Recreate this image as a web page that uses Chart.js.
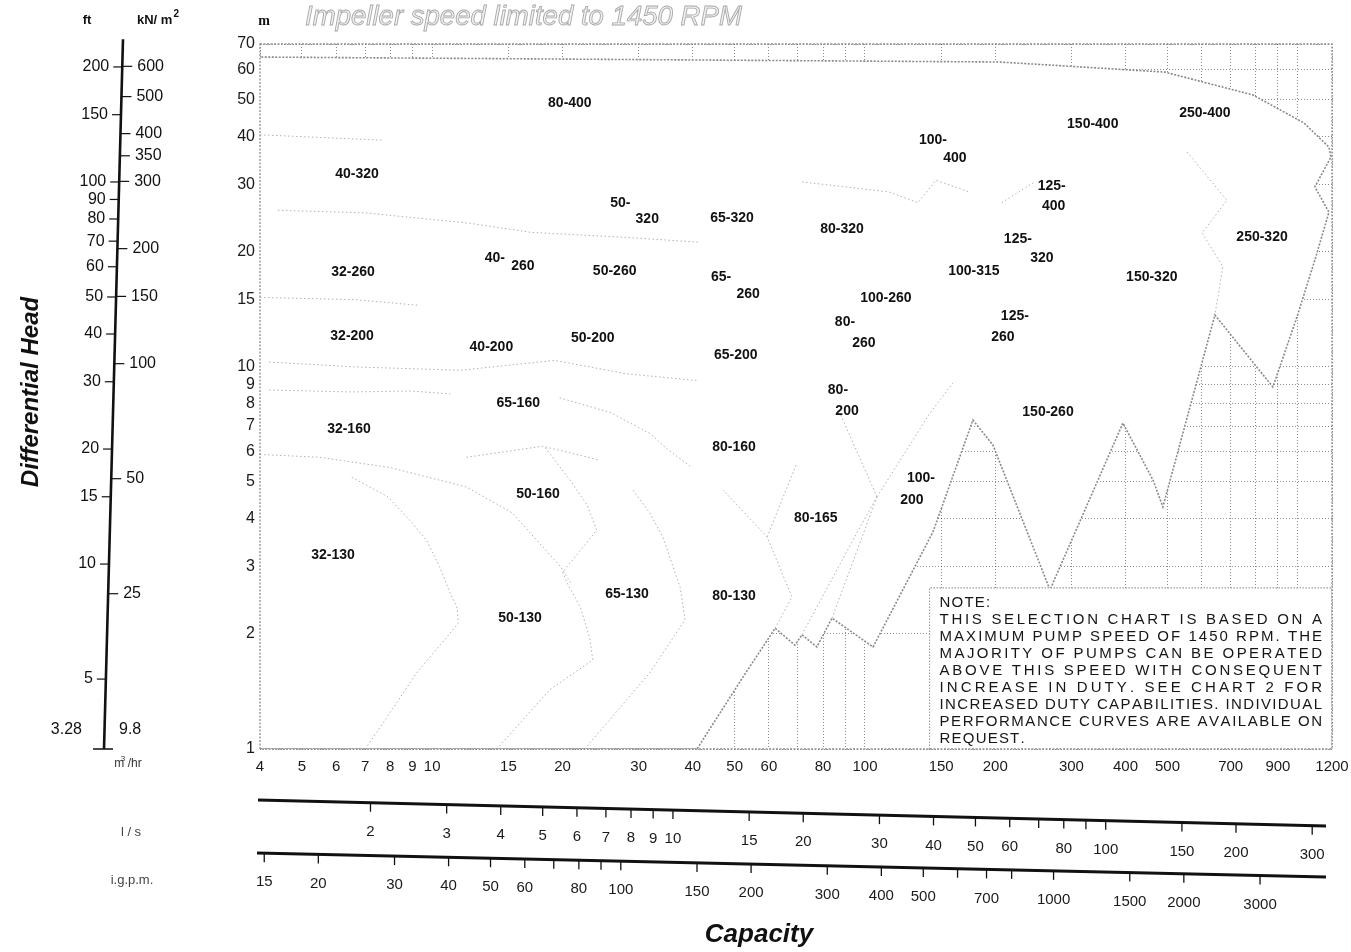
<!DOCTYPE html>
<html>
<head>
<meta charset="utf-8">
<script src="https://cdn.jsdelivr.net/npm/chart.js@4.4.1/dist/chart.umd.min.js"></script>
<style>
  html, body { margin: 0; padding: 0; background: #fff; }
  #wrap { position: relative; width: 1351px; height: 952px; }
</style>
</head>
<body>
<div id="wrap"><canvas id="chart" width="1351" height="952"></canvas></div>
<script>
// Pump selection chart - capacity (m3/hr) vs differential head (m), log/log

const FONT = '"Liberation Sans", Arial, sans-serif';

// main axes
const capacityTicks = [4, 5, 6, 7, 8, 9, 10, 15, 20, 30, 40, 50, 60, 80, 100, 150, 200, 300, 400, 500, 700, 900, 1200];
const capacityGrid = [4, 5, 6, 7, 8, 9, 10, 15, 20, 30, 40, 50, 60, 70, 80, 90, 100, 150, 200, 300, 400, 500, 600, 700, 800, 900, 1000, 1200];
const headTicks = [1, 2, 3, 4, 5, 6, 7, 8, 9, 10, 15, 20, 30, 40, 50, 60, 70];

// left nomogram (ft / kN/m2)
const feetTicks = [200, 150, 100, 90, 80, 70, 60, 50, 40, 30, 20, 15, 10, 5];
const kpaTicks = [600, 500, 400, 350, 300, 200, 150, 100, 50, 25];

// lower capacity scales
const lpsTicks = [2, 3, 4, 5, 6, 7, 8, 9, 10, 15, 20, 30, 40, 50, 60, 70, 80, 90, 100, 150, 200, 300];
const lpsLabels = [2, 3, 4, 5, 6, 7, 8, 9, 10, 15, 20, 30, 40, 50, 60, 80, 100, 150, 200, 300];
const igpmTicks = [15, 20, 30, 40, 50, 60, 70, 80, 90, 100, 150, 200, 300, 400, 500, 600, 700, 800, 1000, 1500, 2000, 3000];
const igpmLabels = [15, 20, 30, 40, 50, 60, 80, 100, 150, 200, 300, 400, 500, 700, 1000, 1500, 2000, 3000];

const M3H_PER_LPS = 3.6;
const M3H_PER_IGPM = 0.272765;
const FT_PER_M = 3.28084;
const KPA_PER_M = 9.80665;

// outer limit of the covered range [m3/hr, m]
const envelope = [
  [4, 1], [40.9, 1], [52.2, 1.54], [62, 2.07], [68.9, 1.87], [71.5, 1.99], [77.4, 1.85], [83.9, 2.2],
  [104.4, 1.85], [143.6, 3.7], [177.6, 7.26], [197.5, 6.25], [267.6, 2.61], [394.5, 7.13], [462.9, 5.06],
  [488, 4.3], [643.6, 13.67], [876, 8.86], [995.6, 13.5], [1095.6, 19.05], [1180.6, 25.4], [1095.6, 29.6],
  [1193, 35.4], [1180.6, 37.6], [1033.6, 43.5], [788, 51.5], [493, 59.1], [205, 62.8], [4, 64.7]
];

// note panel corners [m3/hr, m]
const noteBox = [[141, 1], [141, 2.64], [1200, 2.64], [1200, 1]];

// borders between pump sizes [m3/hr, m]
const lowerBoundaries = [
  [[4, 5.9], [5.5, 5.8], [8, 5.45], [12, 4.85], [15.3, 4.15], [19.8, 3.0], [20.9, 2.72]],
  [[7, 1], [7.7, 1.17], [9.2, 1.58], [10.8, 1.96], [11.5, 2.14], [11.4, 2.35], [11, 2.56], [10.4, 3.0], [9.7, 3.52], [9, 3.9], [7.9, 4.57], [6.5, 5.15]],
  [[14.1, 1], [18.7, 1.43], [23.5, 1.71], [23.1, 1.96], [22, 2.35], [20.5, 2.72], [20, 2.9], [24, 3.74], [22.8, 4.35], [20.8, 5.06], [18.2, 6.17]],
  [[22.5, 1], [31.8, 1.58], [38.4, 2.18], [37.4, 2.65], [34.1, 3.59], [31.8, 4.15], [29.1, 4.76]],
  [[62, 2.07], [67.8, 2.5], [59.4, 3.59], [47, 4.76]],
  [[59.4, 3.59], [69.6, 5.6]],
  [[71.5, 1.99], [97.4, 3.81], [106.6, 4.57]],
  [[83.9, 2.2], [106.6, 4.57]],
  [[106.6, 4.57], [87.5, 7.57]],
  [[106.6, 4.57], [141.3, 7.57], [159.7, 9.08]],
  [[12, 5.8], [18, 6.2], [24.4, 5.7]],
  [[19.7, 8.3], [25.8, 7.6], [31.8, 6.7], [34.9, 6.1], [39.4, 5.5]]
];
const upperBoundaries = [
  [[4, 40.5], [7.7, 39.2]],
  [[4.4, 25.7], [7, 25.3], [12.1, 23.8], [16.9, 22.5], [28.5, 21.8], [41.3, 21.2]],
  [[4, 15.2], [6.6, 15.0], [9.3, 14.5]],
  [[4.2, 10.3], [6.6, 10.0], [11.6, 9.8], [19.2, 10.4], [28, 9.6], [41.3, 9.2]],
  [[4.2, 8.7], [6.5, 8.6], [8.9, 8.65], [11, 8.5]],
  [[71.5, 30.5], [113.6, 28.7], [132.6, 26.9], [145.9, 30.8], [173.9, 28.7]],
  [[207, 26.9], [247, 30.5]],
  [[555, 36.5], [686, 27.3], [601, 22.4], [671.6, 18.3], [643.6, 13.67]]
];

// pump size labels [text, m3/hr, m]
const pumpLabels = [
  ['80-400', 20.8, 49], ['40-320', 6.7, 32], ['50-', 27.2, 26.85], ['320', 31.4, 24.4],
  ['65-320', 49.3, 24.5], ['80-320', 88.5, 23], ['100-', 143.6, 39.3], ['400', 161.4, 35.2],
  ['150-400', 336, 43.2], ['250-400', 610, 46.2], ['125-', 270, 29.7], ['400', 273, 26.4],
  ['125-', 225.6, 21.6], ['320', 256.4, 19.3], ['250-320', 827, 21.8], ['100-315', 178.5, 17.8],
  ['150-320', 460, 17.2], ['32-260', 6.56, 17.7], ['40-', 13.96, 19.3], ['260', 16.2, 18.3],
  ['50-260', 26.4, 17.8], ['65-', 46.5, 17.2], ['260', 53.7, 15.5], ['100-260', 111.8, 15.1],
  ['80-', 89.9, 13.1], ['260', 99.4, 11.55], ['125-', 222, 13.6], ['260', 208.4, 11.97],
  ['32-200', 6.53, 12.04], ['40-200', 13.7, 11.27], ['50-200', 23.5, 11.9], ['65-200', 50.3, 10.74],
  ['80-', 86.6, 8.7], ['200', 90.9, 7.66], ['65-160', 15.8, 8.05], ['32-160', 6.42, 6.88],
  ['150-260', 264.8, 7.62], ['80-160', 49.8, 6.17], ['100-', 134.7, 5.12], ['200', 128.4, 4.48],
  ['50-160', 17.55, 4.65], ['80-165', 77, 4.02], ['32-130', 5.9, 3.22], ['65-130', 28.2, 2.545],
  ['80-130', 49.8, 2.51], ['50-130', 15.95, 2.2]
];

const noteLines = [
  'NOTE:',
  'THIS SELECTION CHART IS BASED ON A',
  'MAXIMUM PUMP SPEED OF 1450 RPM. THE',
  'MAJORITY OF PUMPS CAN BE OPERATED',
  'ABOVE THIS SPEED WITH CONSEQUENT',
  'INCREASE IN DUTY. SEE CHART 2 FOR',
  'INCREASED DUTY CAPABILITIES. INDIVIDUAL',
  'PERFORMANCE CURVES ARE AVAILABLE ON',
  'REQUEST.'
];

const toPoints = pairs => pairs.map(([x, y]) => ({ x, y }));

const boundaryStyle = {
  borderColor: '#b2b2b2', borderWidth: 1, borderDash: [1.5, 2.5],
  pointRadius: 0, fill: false, tension: 0, order: 0
};

// Text with extra letter spacing so that it fills a given width
function spacedText(ctx, text, x, y, width) {
  const chars = [...text];
  const natural = chars.reduce((s, c) => s + ctx.measureText(c).width, 0);
  const gap = width ? (width - natural) / (chars.length - 1) : 1.2;
  let cx = x;
  chars.forEach(c => {
    ctx.fillText(c, cx, y);
    cx += ctx.measureText(c).width + gap;
  });
}

// Slanted capacity scale underneath the chart
function drawSlantScale(ctx, xs, opts) {
  const { x0, x1, y0, y1, ticks, labels, factor } = opts;
  const yAt = px => y0 + (y1 - y0) * (px - x0) / (x1 - x0);
  ctx.strokeStyle = '#111';
  ctx.lineWidth = 3;
  ctx.beginPath();
  ctx.moveTo(x0, y0);
  ctx.lineTo(x1, y1);
  ctx.stroke();
  ctx.lineWidth = 1.3;
  ticks.forEach(v => {
    const px = xs.getPixelForValue(v * factor);
    const py = yAt(px);
    ctx.beginPath();
    ctx.moveTo(px, py);
    ctx.lineTo(px, py + 9);
    ctx.stroke();
  });
  ctx.fillStyle = '#1a1a1a';
  ctx.font = `15px ${FONT}`;
  ctx.textAlign = 'center';
  ctx.textBaseline = 'middle';
  labels.forEach(v => {
    const px = xs.getPixelForValue(v * factor);
    ctx.fillText(String(v), px, yAt(px) + 29);
  });
}

const decorPlugin = {
  id: 'decor',
  afterDatasetsDraw(chart) {
    const { ctx, chartArea: a, scales: { x, y } } = chart;
    ctx.save();

    // frame
    ctx.strokeStyle = '#8e8e8e';
    ctx.lineWidth = 1.3;
    ctx.setLineDash([2, 1.5]);
    ctx.strokeRect(a.left, a.top, a.right - a.left, a.bottom - a.top);
    ctx.setLineDash([]);

    // pump size labels
    ctx.fillStyle = '#111';
    ctx.font = `bold 14px ${FONT}`;
    ctx.textAlign = 'center';
    ctx.textBaseline = 'middle';
    pumpLabels.forEach(([t, q, h]) => {
      ctx.fillText(t, x.getPixelForValue(q), y.getPixelForValue(h));
    });

    // note
    const left = x.getPixelForValue(noteBox[0][0]) + 10;
    const right = a.right - 10;
    const bottom = y.getPixelForValue(noteBox[0][1]);
    ctx.font = `15px ${FONT}`;
    ctx.textAlign = 'left';
    ctx.textBaseline = 'alphabetic';
    ctx.fillStyle = '#161616';
    noteLines.forEach((line, i) => {
      const by = bottom - 6 - (noteLines.length - 1 - i) * 17;
      const full = i > 0 && i < noteLines.length - 1;
      spacedText(ctx, line, left, by, full ? right - left : 0);
    });
    ctx.restore();
  },
  afterDraw(chart) {
    const { ctx, chartArea: a, scales: { x, y } } = chart;
    ctx.save();

    // heading
    const title = 'Impeller speed limited to 1450 RPM';
    ctx.font = `italic 24px ${FONT}`;
    const size = 24 * 437 / ctx.measureText(title).width;
    ctx.font = `italic ${size}px ${FONT}`;
    ctx.textAlign = 'left';
    ctx.textBaseline = 'alphabetic';
    ctx.fillStyle = '#f2f2f2';
    ctx.fillText(title, 305, 25);
    ctx.strokeStyle = '#a9a9a9';
    ctx.lineWidth = 0.9;
    ctx.strokeText(title, 305, 25);

    // unit of the main head axis
    ctx.fillStyle = '#111';
    ctx.font = `bold 14px "Liberation Serif", serif`;
    ctx.textAlign = 'center';
    ctx.fillText('m', 264, 25);

    // left nomogram: ft on the left, kN/m2 on the right
    const topPy = y.getPixelForValue(72);
    const botPy = y.getPixelForValue(1);
    const lineX = py => 104 + (botPy - py) * 19 / (botPy - topPy);
    ctx.strokeStyle = '#111';
    ctx.lineWidth = 2.6;
    ctx.beginPath();
    ctx.moveTo(lineX(topPy), topPy);
    ctx.lineTo(lineX(botPy), botPy);
    ctx.stroke();
    ctx.lineWidth = 1.5;
    ctx.beginPath();
    ctx.moveTo(93, botPy);
    ctx.lineTo(113, botPy);
    ctx.stroke();

    ctx.font = `16px ${FONT}`;
    ctx.textBaseline = 'middle';
    ctx.lineWidth = 1.2;
    feetTicks.forEach(v => {
      const py = y.getPixelForValue(v / FT_PER_M);
      const lx = lineX(py);
      ctx.beginPath();
      ctx.moveTo(lx - 9, py);
      ctx.lineTo(lx, py);
      ctx.stroke();
      ctx.textAlign = 'right';
      ctx.fillText(String(v), lx - 13, py);
    });
    kpaTicks.forEach(v => {
      const py = y.getPixelForValue(v / KPA_PER_M);
      const lx = lineX(py);
      ctx.beginPath();
      ctx.moveTo(lx, py);
      ctx.lineTo(lx + 10, py);
      ctx.stroke();
      ctx.textAlign = 'left';
      ctx.fillText(String(v), lx + 15, py);
    });
    ctx.textAlign = 'right';
    ctx.fillText('3.28', lineX(botPy) - 22, botPy - 19);
    ctx.textAlign = 'left';
    ctx.fillText('9.8', lineX(botPy) + 15, botPy - 19);

    ctx.font = `bold 13px ${FONT}`;
    ctx.textAlign = 'center';
    ctx.fillText('ft', 87, 20);
    ctx.textAlign = 'left';
    ctx.fillText('kN/ m', 137, 20);
    const kw = ctx.measureText('kN/ m').width;
    ctx.font = `bold 10px ${FONT}`;
    ctx.fillText('2', 137 + kw + 1, 14);

    ctx.textAlign = 'center';
    ctx.font = `12px ${FONT}`;
    ctx.fillStyle = '#333';
    ctx.fillText('m /hr', 128, botPy + 15);
    ctx.font = `8px ${FONT}`;
    ctx.fillText('3', 123, botPy + 10);

    // l/s and i.g.p.m. scales
    drawSlantScale(ctx, x, {
      x0: a.left - 2, x1: a.right - 6, y0: a.bottom + 51, y1: a.bottom + 77,
      ticks: lpsTicks, labels: lpsLabels, factor: M3H_PER_LPS
    });
    drawSlantScale(ctx, x, {
      x0: a.left - 3, x1: a.right - 6, y0: a.bottom + 104, y1: a.bottom + 128,
      ticks: igpmTicks, labels: igpmLabels, factor: M3H_PER_IGPM
    });
    ctx.fillStyle = '#444';
    ctx.font = `13px ${FONT}`;
    ctx.textAlign = 'center';
    ctx.fillText('l / s', 131, a.bottom + 83);
    ctx.fillText('i.g.p.m.', 132, a.bottom + 131);

    // axis titles
    ctx.fillStyle = '#111';
    ctx.font = `italic bold 26px ${FONT}`;
    ctx.fillText('Capacity', 759, 935);
    ctx.translate(31, 392);
    ctx.rotate(-Math.PI / 2);
    ctx.font = `italic bold 24px ${FONT}`;
    ctx.fillText('Differential Head', 0, 0);
    ctx.restore();
  }
};

const datasets = [
  {
    data: toPoints(envelope), fill: 'shape', backgroundColor: '#ffffff',
    borderColor: '#8a8a8a', borderWidth: 1.6, borderDash: [2, 1.5],
    pointRadius: 0, tension: 0, order: 10
  },
  {
    data: toPoints(noteBox), fill: 'shape', backgroundColor: '#ffffff',
    borderColor: '#9c9c9c', borderWidth: 1.1, borderDash: [1.5, 1.5],
    pointRadius: 0, tension: 0, order: 9
  },
  ...lowerBoundaries.concat(upperBoundaries).map(b => ({ data: toPoints(b), ...boundaryStyle }))
];

new Chart(document.getElementById('chart'), {
  type: 'line',
  data: { datasets },
  options: {
    responsive: false,
    animation: false,
    devicePixelRatio: 1,
    layout: { padding: { top: 44, right: 19, left: 0, bottom: 0 } },
    plugins: { legend: { display: false }, tooltip: { enabled: false } },
    scales: {
      x: {
        type: 'logarithmic',
        min: 4,
        max: 1200,
        afterFit(scale) {
          scale.height = 203;
          scale.paddingLeft = 0;
          scale.paddingRight = 0;
        },
        afterBuildTicks(scale) { scale.ticks = capacityGrid.map(v => ({ value: v })); },
        ticks: {
          autoSkip: false, maxRotation: 0, minRotation: 0, padding: 9,
          color: '#1a1a1a', font: { family: FONT, size: 15 },
          callback: v => capacityTicks.includes(v) ? String(v) : ''
        },
        grid: { color: 'rgba(0,0,0,0.45)', lineWidth: 1, drawTicks: false },
        border: { display: false, dash: [1, 2] }
      },
      y: {
        type: 'logarithmic',
        min: 1,
        max: 70,
        afterFit(scale) {
          scale.width = 260;
          scale.paddingTop = 0;
          scale.paddingBottom = 0;
        },
        afterBuildTicks(scale) { scale.ticks = headTicks.map(v => ({ value: v })); },
        ticks: {
          autoSkip: false, padding: 5,
          color: '#1a1a1a', font: { family: FONT, size: 16 },
          callback: v => String(v)
        },
        grid: { color: 'rgba(0,0,0,0.45)', lineWidth: 1, drawTicks: false },
        border: { display: false, dash: [1, 2] }
      }
    }
  },
  plugins: [decorPlugin]
});
</script>
</body>
</html>
